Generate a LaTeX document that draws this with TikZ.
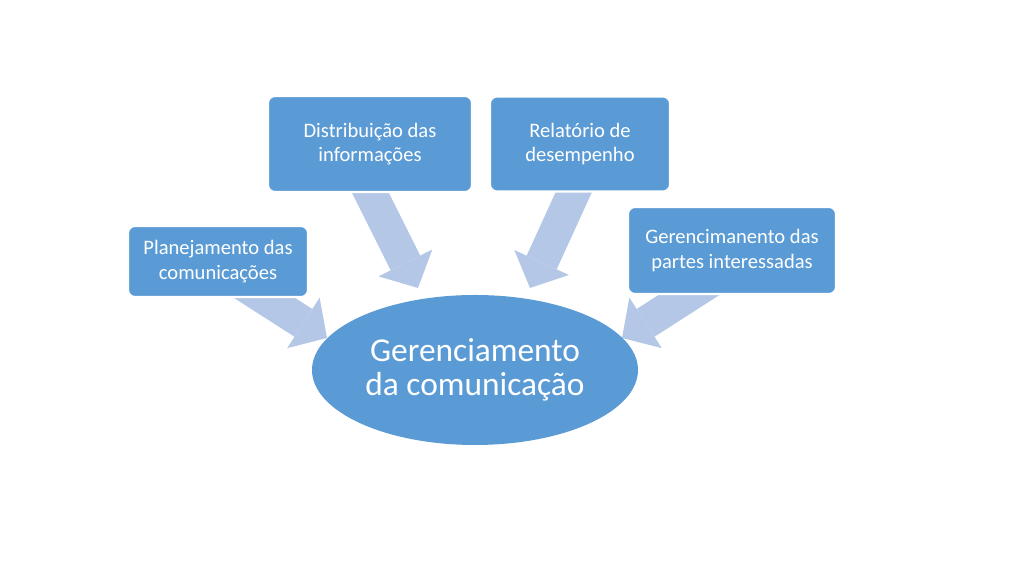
\documentclass[tikz,border=0pt]{standalone}
\usepackage{fontspec}
\setmainfont{Carlito}
\usetikzlibrary{arrows.meta,calc,backgrounds,shapes.geometric}
\definecolor{boxblue}{HTML}{5B9BD5}
\definecolor{arrowblue}{HTML}{B4C7E7}

\begin{document}
\begin{tikzpicture}[
  topic/.style={fill=boxblue,draw=white,line width=1.2pt,rounded corners=4pt,text=white,align=center,font=\fontsize{11.7}{13.8}\selectfont,inner sep=2pt},
  flow/.style={arrowblue,line width=0.66cm,-{Triangle[length=0.56cm 0 0,width=1.2cm 0 0,line width=0pt]}}]
\useasboundingbox (0,0) rectangle (20.48,11.52);
\node[ellipse,fill=boxblue,inner sep=0pt,minimum width=6.52cm,minimum height=3.0cm,text=white,align=center,font=\fontsize{19}{19.5}\selectfont] (gc) at (9.50,4.12) {Gerenciamento\\da comunicação};
\node[topic,minimum width=3.6cm,minimum height=1.42cm] (plan) at (4.36,6.29) {Planejamento das\\comunicações};
\node[topic,minimum width=4.08cm,minimum height=1.92cm] (dist) at (7.40,8.64) {Distribuição das\\informações};
\node[topic,minimum width=3.6cm,minimum height=1.9cm] (rel) at (11.60,8.64) {Relatório de\\desempenho};
\node[topic,minimum width=4.16cm,minimum height=1.74cm] (part) at (14.64,6.51) {Gerencimanento das\\partes interessadas};
% arrow ends
\coordinate (tA) at ($(plan.south)+(0.31,0.40)$);
\coordinate (tB) at ($(dist.south)+(-0.14,0.30)$);
\coordinate (tC) at ($(rel.south)+(0.0,0.28)$);
\coordinate (tD) at ($(part.south)+(-0.27,0.38)$);
\coordinate (hA) at ($(gc.center)+(-2.96,0.64)$);
\coordinate (hB) at ($(gc.center)+(-1.14,1.64)$);
\coordinate (hC) at ($(gc.center)+(1.10,1.64)$);
\coordinate (hD) at ($(gc.center)+(2.94,0.64)$);
\begin{scope}[on background layer]
\fill[white] (0,0) rectangle (20.48,11.52);
\draw[flow] (tA) -- (hA);
\draw[flow] (tB) -- (hB);
\draw[flow] (tC) -- (hC);
\draw[flow] (tD) -- (hD);
\end{scope}
\end{tikzpicture}
\end{document}
